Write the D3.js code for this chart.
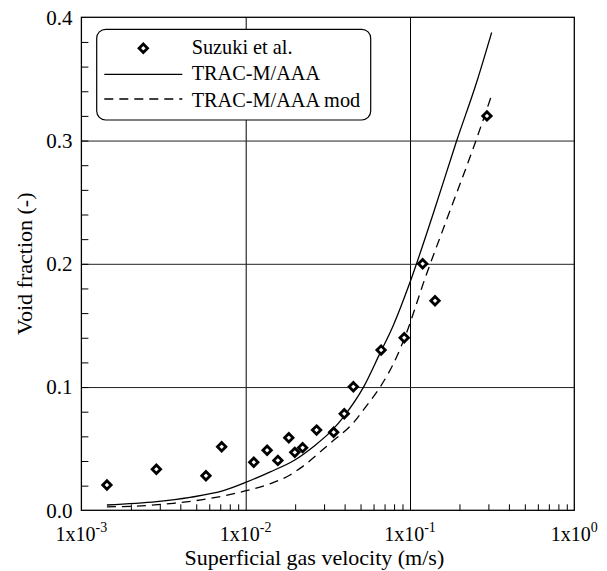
<!DOCTYPE html>
<html>
<head>
<meta charset="utf-8">
<script src="https://cdn.jsdelivr.net/npm/d3@7"></script>
<style>
    body { margin: 0; background: #fff; }
    svg, svg text { font-family: "Liberation Serif", "Tinos", "DejaVu Serif", "Noto Serif", "Nimbus Roman", "FreeSerif", "Times New Roman", Times, serif; }
    .axis path, .axis line { stroke: #000; }
</style>
</head>
<body>
<div id="chart"></div>
<script>

// measured points (Suzuki et al.)
let suzukiX = [0.00143, 0.00286, 0.00573, 0.00714, 0.0112, 0.0135, 0.0157, 0.0183, 0.0199,
    0.0222, 0.0270, 0.0343, 0.0398, 0.0452, 0.0667, 0.0922, 0.1194, 0.142, 0.294];
let suzukiY = [0.0205, 0.0333, 0.0280, 0.0516, 0.0390, 0.0487, 0.0405, 0.0589, 0.0470,
    0.0508, 0.0651, 0.0633, 0.0783, 0.1002, 0.130, 0.140, 0.200, 0.170, 0.320];

// TRAC-M/AAA
let tracX = [0.00143, 0.00287, 0.00458, 0.00731, 0.00991, 0.0140, 0.0199, 0.0258, 0.0330,
    0.0402, 0.0520, 0.0656, 0.0791, 0.100, 0.1387, 0.1923, 0.2547, 0.314];
let tracY = [0.0043, 0.0070, 0.0105, 0.0159, 0.0224, 0.0310, 0.0408, 0.0516, 0.0640,
    0.0773, 0.0997, 0.1273, 0.150, 0.185, 0.241, 0.2998, 0.3475, 0.3877];

// TRAC-M/AAA mod
let modX = [0.00143, 0.00207, 0.00362, 0.00579, 0.00991, 0.0140, 0.0186, 0.0214, 0.0326,
    0.0452, 0.0545, 0.0656, 0.0830, 0.0933, 0.1233, 0.167, 0.2426, 0.314];
let modY = [0.0028, 0.0033, 0.0057, 0.0092, 0.0157, 0.0215, 0.0286, 0.0340, 0.0543,
    0.0710, 0.0850, 0.0997, 0.1246, 0.1408, 0.188, 0.2357, 0.2938, 0.3368];

let yTicks = [0, 0.1, 0.2, 0.3, 0.4];
let xTicks = [0.001, 0.01, 0.1, 1];
let xTickExp = ["-3", "-2", "-1", "0"];
let legendLabels = ["Suzuki et al.", "TRAC-M/AAA", "TRAC-M/AAA mod"];

let margin = {top: 17.3, right: 32.7, bottom: 60.7, left: 81.4};
let width = 607 - margin.left - margin.right;
let height = 571 - margin.top - margin.bottom;

let svg = d3.select("#chart").append("svg")
    .attr("width", 607)
    .attr("height", 571)
    .append("g")
    .attr("transform", "translate(" + margin.left + "," + margin.top + ")");

let x = d3.scaleLog().domain([0.001, 1]).range([0, width]);
let y = d3.scaleLinear().domain([0, 0.4]).range([height, 0]);

// grid lines
svg.append("g")
    .attr("class", "axis")
    .attr("transform", "translate(0," + height + ")")
    .call(d3.axisBottom(x).tickValues([0.01, 0.1]).tickSize(-height).tickFormat(""))
    .call(g => g.select(".domain").remove());

svg.append("g")
    .attr("class", "axis")
    .call(d3.axisLeft(y).tickValues([0.1, 0.2, 0.3]).tickSize(-width).tickFormat(""))
    .call(g => g.select(".domain").remove())
    .selectAll("line").style("stroke", "#222");

// minor ticks
let minorX = [];
[0.001, 0.01, 0.1].forEach(d => {
    for (let k = 2; k <= 9; k++) minorX.push(d * k);
});
svg.append("g")
    .attr("class", "axis")
    .attr("transform", "translate(0," + height + ")")
    .call(d3.axisBottom(x).tickValues(minorX).tickSize(-6).tickFormat(""))
    .call(g => g.select(".domain").remove());

svg.append("g")
    .attr("class", "axis")
    .call(d3.axisLeft(y).tickValues(d3.range(0.02, 0.4, 0.02)).tickSize(-7).tickFormat(""))
    .call(g => g.select(".domain").remove());

// frame
svg.append("rect")
    .attr("width", width)
    .attr("height", height)
    .attr("fill", "none")
    .attr("stroke", "#000")
    .attr("stroke-width", 1.3);

// tick labels
svg.selectAll(".ylab")
    .data(yTicks)
    .enter()
    .append("text")
    .attr("class", "ylab")
    .attr("x", -9)
    .attr("y", d => y(d))
    .attr("dy", "0.35em")
    .attr("text-anchor", "end")
    .style("font-size", "21px")
    .text(d => d.toFixed(1));

let xl = svg.selectAll(".xlab")
    .data(xTicks)
    .enter()
    .append("text")
    .attr("class", "xlab")
    .attr("x", d => x(d))
    .attr("y", height + 31)
    .attr("text-anchor", "middle")
    .style("font-size", "20px");
xl.append("tspan").text("1x10");
xl.append("tspan")
    .attr("dy", -9)
    .style("font-size", "14px")
    .text((d, i) => xTickExp[i]);

// axis titles
svg.append("text")
    .attr("x", 233)
    .attr("y", height + 55)
    .attr("text-anchor", "middle")
    .style("font-size", "22px")
    .text("Superficial gas velocity (m/s)");

svg.append("text")
    .attr("transform", `translate(${32 - margin.left}, ${height / 2}) rotate(-90)`)
    .attr("text-anchor", "middle")
    .style("font-size", "22px")
    .text("Void fraction (-)");

// curves
let line = d3.line()
    .x(d => x(d[0]))
    .y(d => y(d[1]))
    .curve(d3.curveMonotoneX);

svg.append("path")
    .datum(d3.zip(tracX, tracY))
    .attr("d", line)
    .attr("fill", "none")
    .attr("stroke", "#000")
    .attr("stroke-width", 1.3);

svg.append("path")
    .datum(d3.zip(modX, modY))
    .attr("d", line)
    .attr("fill", "none")
    .attr("stroke", "#000")
    .attr("stroke-width", 1.3)
    .attr("stroke-dasharray", "9,6");

// diamonds
let diamond = "M0,-4.2L4.2,0L0,4.2L-4.2,0Z";
svg.selectAll(".pt")
    .data(d3.zip(suzukiX, suzukiY))
    .enter()
    .append("path")
    .attr("class", "pt")
    .attr("d", diamond)
    .attr("transform", d => `translate(${x(d[0])},${y(d[1])})`)
    .attr("fill", "#fff")
    .attr("stroke", "#000")
    .attr("stroke-width", 2.8);

// legend
let legend = svg.append("g")
    .attr("transform", `translate(${96.7 - margin.left}, ${29.3 - margin.top})`);

legend.append("rect")
    .attr("width", 274)
    .attr("height", 90.7)
    .attr("rx", 9)
    .attr("ry", 9)
    .attr("fill", "#fff")
    .attr("stroke", "#000")
    .attr("stroke-width", 1.2);

legend.append("path")
    .attr("d", diamond)
    .attr("transform", "translate(46.6,19)")
    .attr("fill", "#fff")
    .attr("stroke", "#000")
    .attr("stroke-width", 2.8);

legend.append("line")
    .attr("x1", 7.6).attr("x2", 85.6)
    .attr("y1", 45).attr("y2", 45)
    .attr("stroke", "#000").attr("stroke-width", 1.3);

legend.append("line")
    .attr("x1", 7.6).attr("x2", 85.6)
    .attr("y1", 69.7).attr("y2", 69.7)
    .attr("stroke", "#000").attr("stroke-width", 1.3)
    .attr("stroke-dasharray", "9,6");

legend.selectAll(".leglab")
    .data(legendLabels)
    .enter()
    .append("text")
    .attr("class", "leglab")
    .attr("x", 95)
    .attr("y", (d, i) => 25 + i * 26.2)
    .style("font-size", "20.3px")
    .text(d => d);

</script>
</body>
</html>
